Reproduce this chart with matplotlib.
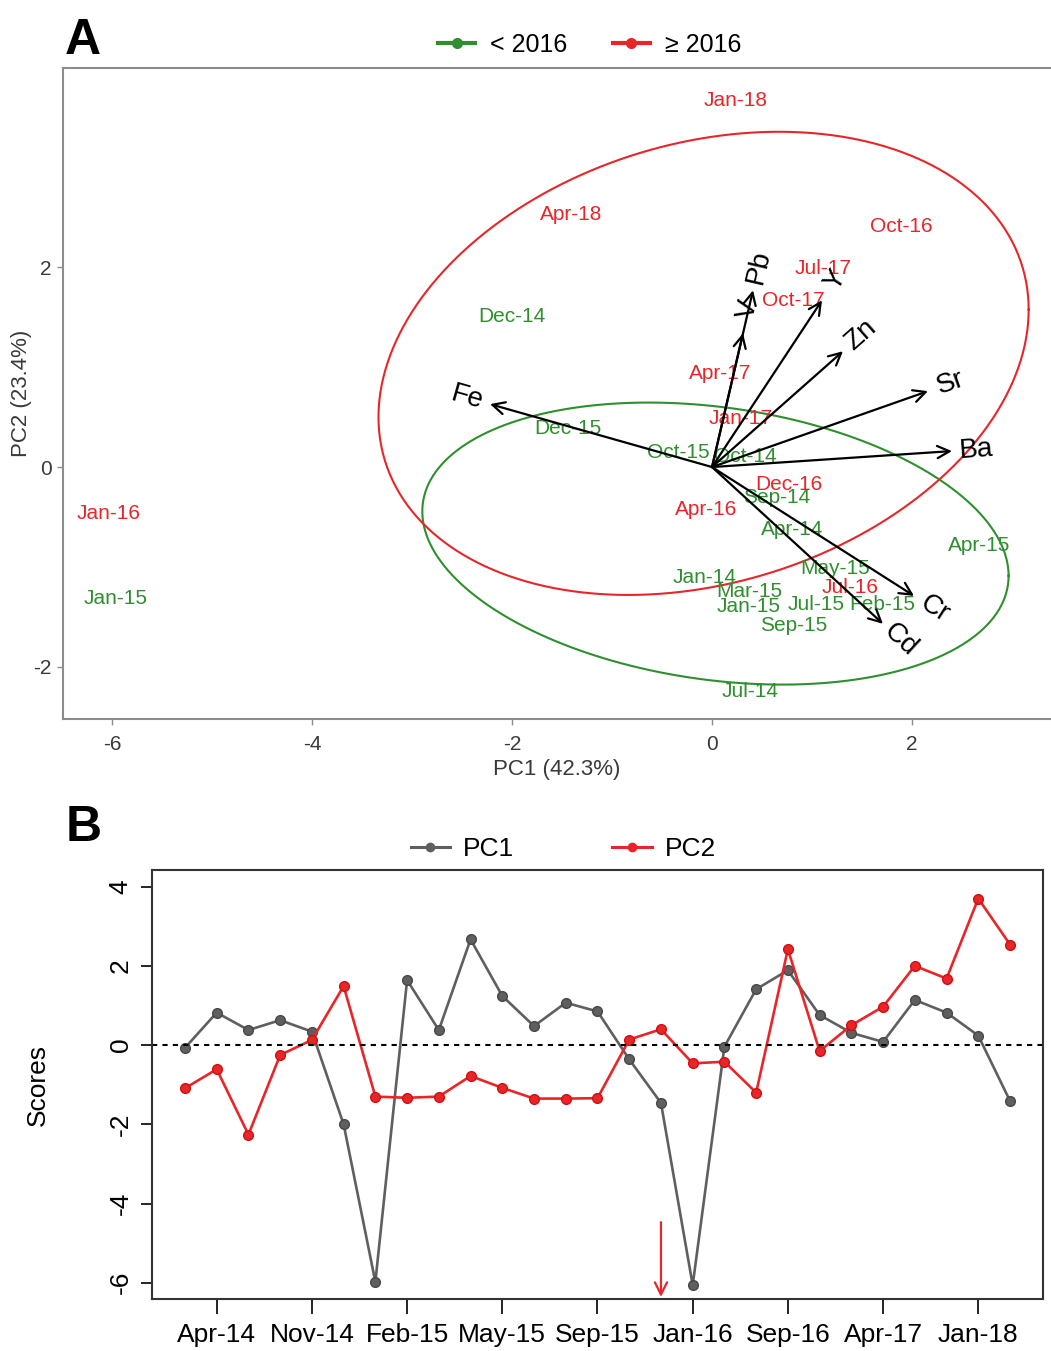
import numpy as np
import matplotlib
matplotlib.use('Agg')
import matplotlib.pyplot as plt
from matplotlib.lines import Line2D

# ---- panel A: PCA biplot (scores) ----
months = ['Jan-14', 'Apr-14', 'Jul-14', 'Sep-14', 'Oct-14', 'Dec-14', 'Jan-15',
          'Feb-15', 'Mar-15', 'Apr-15', 'May-15', 'Jan-15', 'Jul-15', 'Sep-15',
          'Oct-15', 'Dec-15', 'Jan-16', 'Apr-16', 'Jul-16', 'Oct-16', 'Dec-16',
          'Jan-17', 'Apr-17', 'Jul-17', 'Oct-17', 'Jan-18', 'Apr-18']
biplot_pc1 = [-0.07, 0.80, 0.38, 0.65, 0.33, -2.00, -5.96, 1.70, 0.37, 2.67, 1.23,
              0.37, 1.04, 0.82, -0.34, -1.44, -6.03, -0.06, 1.38, 1.89, 0.77,
              0.29, 0.08, 1.11, 0.81, 0.24, -1.41]
biplot_pc2 = [-1.11, -0.63, -2.25, -0.30, 0.11, 1.51, -1.32, -1.38, -1.25, -0.79, -1.02,
              -1.40, -1.38, -1.59, 0.15, 0.39, -0.47, -0.43, -1.21, 2.41, -0.17,
              0.49, 0.94, 1.99, 1.67, 3.67, 2.53]
period = ['< 2016'] * 16 + ['≥ 2016'] * 11

elements = ['Fe', 'Ba', 'Sr', 'Zn', 'Y', 'Pb', 'V', 'Cr', 'Cd']
load_pc1 = [-2.22, 2.40, 2.16, 1.31, 1.10, 0.41, 0.31, 2.02, 1.71]
load_pc2 = [0.63, 0.16, 0.76, 1.16, 1.67, 1.77, 1.34, -1.29, -1.57]

# ---- panel B: score time series ----
pc1_scores = [-0.07, 0.82, 0.38, 0.63, 0.34, -2.00, -5.98, 1.64, 0.38, 2.67, 1.24,
              0.48, 1.07, 0.85, -0.36, -1.46, -6.06, -0.04, 1.41, 1.89, 0.76,
              0.31, 0.08, 1.14, 0.82, 0.24, -1.41]
pc2_scores = [-1.09, -0.61, -2.26, -0.25, 0.13, 1.49, -1.30, -1.33, -1.30, -0.78, -1.08,
              -1.35, -1.35, -1.34, 0.14, 0.40, -0.46, -0.42, -1.20, 2.42, -0.15,
              0.50, 0.97, 2.00, 1.68, 3.70, 2.54]
tick_pos = [1, 4, 7, 10, 13, 16, 19, 22, 25]
tick_labels = ['Apr-14', 'Nov-14', 'Feb-15', 'May-15', 'Sep-15', 'Jan-16',
               'Sep-16', 'Apr-17', 'Jan-18']
event_idx = 15

GREEN = '#2f8f2f'
RED = '#e8262a'
GRAY = '#5f5f5f'
plt.rcParams['font.family'] = ['Liberation Sans', 'DejaVu Sans']
plt.rcParams['axes.unicode_minus'] = False


def ellipse_xy(x, y, prob=0.68, n=200):
    # normal-probability ellipse like ggbiplot draws
    pts = np.column_stack([x, y])
    mu = pts.mean(axis=0)
    cov = np.cov(pts, rowvar=False)
    r = np.sqrt(-2 * np.log(1 - prob))
    t = np.linspace(0, 2 * np.pi, n)
    circ = np.column_stack([np.cos(t), np.sin(t)])
    chol = np.linalg.cholesky(cov)
    e = mu + r * circ @ chol.T
    return e[:, 0], e[:, 1]


fig = plt.figure(figsize=(10.51, 13.51), dpi=100)

# ---------------- A ----------------
ax = fig.add_axes([0.060, 0.468, 0.940, 0.482])
x = np.array(biplot_pc1)
y = np.array(biplot_pc2)
grp = np.array(period)
for g, col in [('< 2016', GREEN), ('≥ 2016', RED)]:
    m = grp == g
    ex, ey = ellipse_xy(x[m], y[m])
    ax.plot(ex, ey, color=col, lw=1.5)
for i, lab in enumerate(months):
    col = GREEN if period[i] == '< 2016' else RED
    ax.text(x[i], y[i], lab, color=col, fontsize=15, ha='center', va='center')

for name, lx, ly in zip(elements, load_pc1, load_pc2):
    ax.annotate('', xy=(lx, ly), xytext=(0, 0),
                arrowprops=dict(arrowstyle='->', lw=1.6, color='black',
                                mutation_scale=22, shrinkA=0, shrinkB=0))
    ang = np.degrees(np.arctan2(ly, lx))
    rot = ang if abs(ang) <= 90 else ang - 180
    d = np.hypot(lx, ly)
    tx, ty = lx * (1 + 0.24 / d), ly * (1 + 0.24 / d)
    ax.text(tx, ty, name, fontsize=20, rotation=rot, rotation_mode='anchor',
            ha='center', va='center', color='black')

ax.set_xlim(-6.49, 3.39)
ax.set_ylim(-2.52, 4.0)
ax.set_xticks([-6, -4, -2, 0, 2])
ax.set_yticks([-2, 0, 2])
for s in ['left', 'top', 'bottom']:
    ax.spines[s].set_color('#8c8c8c')
    ax.spines[s].set_linewidth(1.5)
ax.spines['right'].set_visible(False)
ax.tick_params(length=4, width=1, color='#8c8c8c', labelcolor='#3a3a3a',
               labelsize=15, pad=4)
ax.tick_params(axis='x', pad=8)
ax.set_xlabel('PC1 (42.3%)', fontsize=16, color='#3a3a3a', labelpad=3)
ax.set_ylabel('PC2 (23.4%)', fontsize=16, color='#3a3a3a')
ax.yaxis.set_label_coords(-0.031, 0.5)

h_a = [Line2D([], [], color=GREEN, lw=3, marker='o', ms=7),
       Line2D([], [], color=RED, lw=3, marker='o', ms=7)]
fig.legend(h_a, ['< 2016', '≥ 2016'], loc='center', bbox_to_anchor=(0.561, 0.9667),
           ncol=2, frameon=False, handlelength=1.5, handletextpad=0.6,
           columnspacing=1.8, prop={'size': 18})
fig.text(0.062, 0.970, 'A', fontsize=36, fontweight='bold', va='center')

# ---------------- B ----------------
bx = fig.add_axes([0.1446, 0.0385, 0.8478, 0.3175])
idx = np.arange(len(pc1_scores))
bx.plot(idx, pc1_scores, color=GRAY, lw=1.9, marker='o', ms=7,
        mec='#484848', mfc=GRAY)
bx.plot(idx, pc2_scores, color=RED, lw=1.9, marker='o', ms=7,
        mec='#d01010', mfc=RED)
bx.axhline(0, color='black', lw=1.5, ls=(0, (2.5, 2.5)))
bx.annotate('', xy=(event_idx, -6.36), xytext=(event_idx, -4.47),
            arrowprops=dict(arrowstyle='->', lw=1.6, color=RED,
                            mutation_scale=22, shrinkA=0, shrinkB=0))
bx.set_xlim(-1.04, 27.04)
bx.set_ylim(-6.41, 4.42)
bx.set_xticks(tick_pos)
bx.set_xticklabels(tick_labels)
bx.set_yticks([-6, -4, -2, 0, 2, 4])
for s in bx.spines.values():
    s.set_linewidth(1.5)
    s.set_color('#333333')
bx.tick_params(axis='x', length=11, width=1.2, labelsize=19, pad=6)
bx.tick_params(axis='y', length=8, width=1.2, labelsize=19, pad=6, labelrotation=90)
for t in bx.get_yticklabels():
    t.set_va('center')
bx.set_ylabel('Scores', fontsize=19)
bx.yaxis.set_label_coords(-0.115, 0.5)

h_b = [Line2D([], [], color=GRAY, lw=2.2, marker='o', ms=6),
       Line2D([], [], color=RED, lw=2.2, marker='o', ms=6)]
fig.legend(h_b, ['PC1', 'PC2'], loc='center', bbox_to_anchor=(0.536, 0.3716),
           ncol=2, frameon=False, handlelength=1.5, handletextpad=0.5,
           columnspacing=3.7, prop={'size': 19})
fig.text(0.062, 0.387, 'B', fontsize=36, fontweight='bold', va='center')

fig.savefig('out.png', dpi=100)
